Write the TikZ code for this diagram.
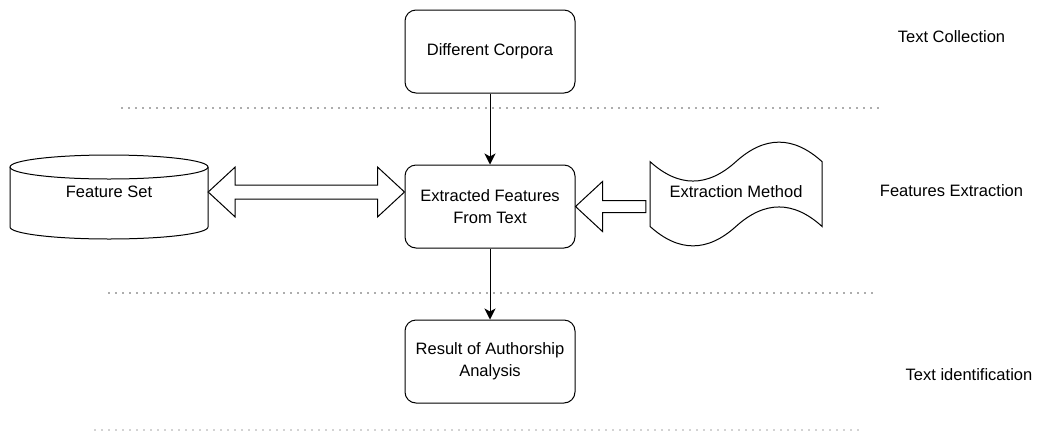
\documentclass[tikz,border=0pt]{standalone}
\usepackage{fontspec}
\setmainfont{Liberation Sans}
\usetikzlibrary{arrows.meta,calc}
\begin{document}
\begin{tikzpicture}[x=1pt,y=-1pt,
  every node/.style={font=\fontsize{16.5}{22}\selectfont, inner sep=0pt, align=center},
  box/.style={draw, line width=1pt, rounded corners=11pt, minimum width=170pt, minimum height=83pt},
  outline/.style={draw, line width=1pt},
  blockarrow/.style={draw, line width=1pt, fill=white, line join=miter},
  flow/.style={draw, line width=1pt, -{Stealth[length=11pt,width=11pt,inset=3pt]}},
  sep/.style={draw=black!65, line width=1.7pt, line cap=round, dash pattern=on 0pt off 7pt},
  stage/.style={text=black}]
\useasboundingbox (0,0) rectangle (1037,432);

% main boxes
\node[box] (dc) at (490,51.5) {Different Corpora};
\node[box] (ef) at (490,206.5) {Extracted Features\\From Text};
\node[box] (ra) at (490,361.5) {Result of Authorship\\Analysis};

% feature set cylinder
\node[minimum width=198pt] (fs) at (109,192) {Feature Set};
\coordinate (fsT) at ($(fs.center)+(0,-25)$);
\draw[outline] (fsT) ellipse [x radius=99pt, y radius=12pt];
\draw[outline] ($(fsT)+(-99,0)$) -- ++(0,60)
  arc[start angle=180, end angle=360, x radius=99pt, y radius=12pt] -- ++(0,-60);

% extraction method tape
\node[minimum width=172pt] (em) at (736,192) {Extraction Method};
\begin{scope}[shift={(em.center)}]
\draw[outline] (-86,-30.4) .. controls (-57.33,-4.47) and (-28.67,-4.47) .. (0,-30.4)
  .. controls (28.67,-56.33) and (57.33,-56.33) .. (86,-30.4)
  -- (86,34.4)
  .. controls (57.33,8.47) and (28.67,8.47) .. (0,34.4)
  .. controls (-28.67,60.33) and (-57.33,60.33) .. (-86,34.4) -- cycle;
\end{scope}

% flow arrows
\draw[flow] (dc.south) -- (ef.north);
\draw[flow] (ef.south) -- (ra.north);

% double block arrow between feature set and extracted features
\coordinate (dl) at (fs.east);
\coordinate (dr) at (ef.west |- fs.east);
\draw[blockarrow] (dl) -- ($(dl)+(27,-25)$) -- ($(dl)+(27,-7)$) -- ($(dr)+(-27,-7)$)
  -- ($(dr)+(-27,-25)$) -- (dr) -- ($(dr)+(-27,25)$) -- ($(dr)+(-27,7)$)
  -- ($(dl)+(27,7)$) -- ($(dl)+(27,25)$) -- cycle;

% single block arrow from extraction method
\coordinate (st) at (ef.east);
\coordinate (se) at ($(em.west |- ef.east)+(-4,0)$);
\draw[blockarrow] (st) -- ($(st)+(27,-25)$) -- ($(st)+(27,-6)$) -- ($(se)+(0,-6)$)
  -- ($(se)+(0,6)$) -- ($(st)+(27,6)$) -- ($(st)+(27,25)$) -- cycle;

% dotted separators
\coordinate (s1a) at (122,108); \coordinate (s1b) at (885,108);
\coordinate (s2a) at (109,293); \coordinate (s2b) at (875,293);
\coordinate (s3a) at (95,430);  \coordinate (s3b) at (860,430);
\draw[sep] (s1a) -- (s1b);
\draw[sep] (s2a) -- (s2b);
\draw[sep, draw=black!35] (s3a) -- (s3b);

% stage labels
\node[stage] (l1) at (951.5,37) {Text Collection};
\node[stage] (l2) at (951.5,191) {Features Extraction};
\node[stage] (l3) at (969,375) {Text identification};
\end{tikzpicture}
\end{document}
